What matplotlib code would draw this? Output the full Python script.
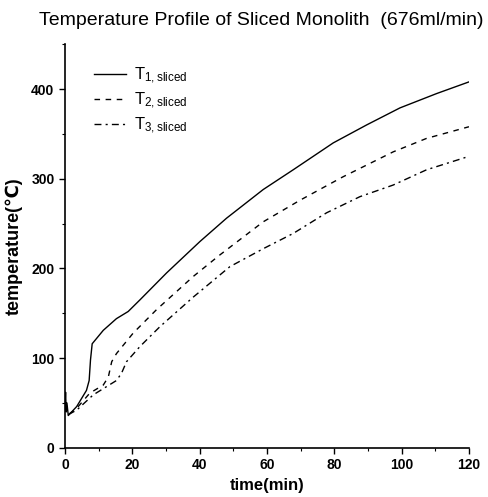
import numpy as np
import matplotlib
matplotlib.use('Agg')
import matplotlib.pyplot as plt
from matplotlib.ticker import MultipleLocator

plt.rcParams['font.family'] = ['Liberation Sans', 'DejaVu Sans']
plt.rcParams['mathtext.default'] = 'regular'

# time (min) / temperature (C)
t1 = [0, 0.2, 0.4, 0.6, 1, 3.5, 6.4, 7.2, 7.6, 8.1, 11.4, 15.3, 18.8, 22.3, 30.2, 40.1,
      48, 58.9, 67.8, 79.7, 89.6, 99.5, 110.4, 120]
T1 = [45, 62, 40, 50, 36, 46, 64, 75, 98, 116, 131, 144, 152, 165, 195, 230,
      256, 288, 310, 340, 360, 379, 395, 408]

t2 = [0, 0.3, 1, 3.5, 7.4, 11.4, 12.9, 13.9, 15.3, 20.3, 27.2, 38.1, 46, 58.9,
      69.8, 82.5, 97.5, 107.4, 120]
T2 = [40, 50, 37, 44, 61, 70, 79, 96, 105, 128, 154, 191, 215, 252,
      276, 302, 330, 345, 358]

t3 = [0, 0.3, 1, 3.5, 8.4, 15.3, 16.8, 18.3, 22.3, 28.2, 38.1, 49, 58.9, 67.8,
      77.7, 87.6, 97.5, 107.4, 120]
T3 = [40, 48, 37, 42, 59, 75, 83, 96, 113, 135, 168, 202, 222, 239,
      262, 280, 293, 310, 325]

fig = plt.figure(figsize=(4.88, 4.97), dpi=100)
ax = fig.add_axes([0.133, 0.099, 0.828, 0.812])

ax.plot(t1, T1, 'k-', lw=1.0, label=r'$T_{1,sliced}$')
ax.plot(t2, T2, 'k--', lw=1.0, dashes=(4, 4), label=r'$T_{2,sliced}$')
ax.plot(t3, T3, 'k-.', lw=1.0, dashes=(5, 3, 1.5, 3), label=r'$T_{3,sliced}$')

ax.set_xlim(0, 120)
ax.set_ylim(0, 450)
ax.set_xticks([0, 20, 40, 60, 80, 100, 120])
ax.set_yticks([0, 100, 200, 300, 400])
ax.xaxis.set_minor_locator(MultipleLocator(10))
ax.yaxis.set_minor_locator(MultipleLocator(50))
ax.spines['top'].set_visible(False)
ax.spines['right'].set_visible(False)
ax.spines['left'].set_linewidth(1.2)
ax.spines['bottom'].set_linewidth(1.2)
ax.tick_params(which='major', direction='out', length=4, width=1, labelsize=10)
ax.tick_params(which='minor', direction='out', length=2, width=0.8)
for lab in ax.get_xticklabels() + ax.get_yticklabels():
    lab.set_fontweight('bold')

ax.set_xlabel('time(min)', fontsize=12, fontweight='bold', labelpad=4)
ax.set_ylabel('temperature(℃)', fontsize=13, fontweight='bold', labelpad=6)
fig.text(0.535, 0.958, 'Temperature Profile of Sliced Monolith  (676ml/min)',
         ha='center', va='center', fontsize=14)

ax.legend(loc='upper left', bbox_to_anchor=(0.035, 0.985), frameon=False, fontsize=12,
          handlelength=1.9, handletextpad=0.5, labelspacing=0.3)

fig.savefig('out.png', dpi=100)
